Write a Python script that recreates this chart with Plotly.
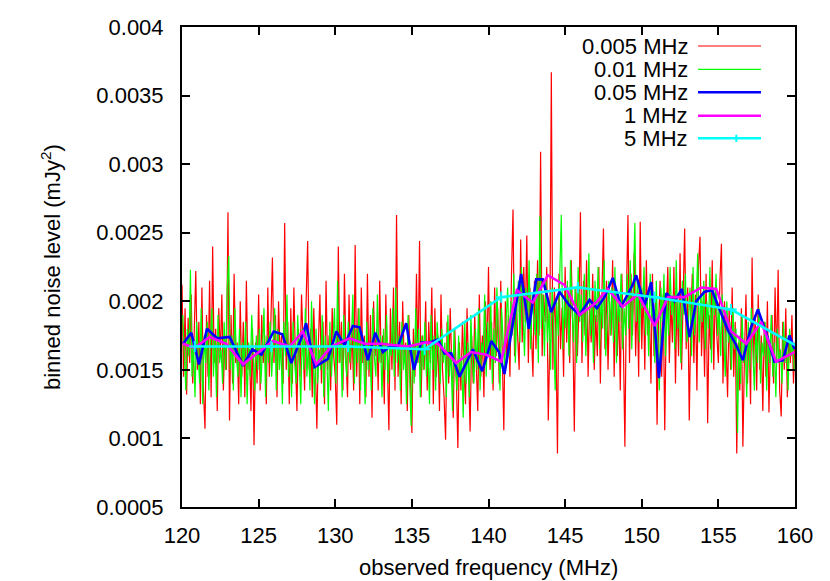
"""Binned noise level vs observed frequency, gnuplot-style."""

import plotly.graph_objects as go

FONT = "Liberation Sans, Arial, sans-serif"
SCALE = 1e-3  # values below are in units of 1e-3 mJy^2

# 0.005 MHz binning, channels from 120.0 MHz every 0.1 MHz
RED_START, RED_STEP = 120.0, 0.1
RED = [
    2.12, 1.45, 1.95, 1.32, 1.88, 1.55, 2.05, 1.40, 1.78, 2.22,
    1.50, 1.85, 1.25, 2.10, 1.35, 1.07, 1.90, 1.45, 2.15, 1.30,
    2.40, 1.55, 1.80, 1.20, 1.95, 1.60, 2.05, 1.35, 1.75, 1.50,
    2.65, 1.13, 1.90, 1.40, 2.20, 1.55, 1.70, 1.25, 2.00, 1.45,
    1.85, 1.30, 2.15, 1.50, 1.65, 1.20, 1.80, 0.95, 1.70, 1.40,
    2.05, 1.35, 1.90, 1.55, 1.75, 1.25, 2.10, 1.45, 1.85, 2.32,
    1.55, 1.90, 1.30, 2.00, 1.60, 1.75, 1.40, 2.57, 1.50, 1.85,
    1.25, 1.95, 1.40, 2.10, 1.60, 1.20, 1.80, 1.45, 2.05, 1.70,
    1.35, 2.00, 2.44, 1.50, 1.80, 1.30, 1.95, 1.55, 1.07, 1.70,
    2.05, 1.40, 1.85, 1.25, 2.15, 1.50, 1.75, 1.35, 1.95, 1.60,
    1.45, 1.10, 2.40, 1.55, 1.85, 1.35, 2.20, 1.60, 1.30, 2.05,
    1.50, 1.80, 1.35, 2.41, 1.45, 1.95, 1.25, 2.10, 1.55, 1.75,
    1.30, 2.20, 1.45, 1.90, 1.15, 2.00, 1.60, 1.80, 1.35, 2.15,
    1.55, 1.75, 1.25, 2.05, 1.40, 1.06, 1.95, 1.50, 2.10, 1.35,
    2.63, 1.45, 1.85, 1.25, 2.00, 1.55, 1.70, 1.20, 1.90, 1.40,
    1.04, 1.80, 1.45, 2.20, 1.55, 2.44, 1.30, 1.75, 1.50, 2.00,
    1.35, 1.85, 1.55, 2.10, 1.25, 1.95, 1.45, 1.75, 1.20, 2.05,
    1.50, 1.30, 0.99, 1.85, 1.40, 1.95, 1.55, 1.15, 1.80, 1.45,
    0.93, 1.70, 1.35, 1.85, 1.50, 1.25, 1.95, 1.40, 1.05, 1.75,
    1.40, 1.90, 1.55, 1.20, 2.05, 1.45, 1.75, 1.30, 2.00, 1.60,
    2.25, 1.50, 1.85, 1.35, 2.10, 1.60, 1.95, 1.40, 2.15, 1.70,
    1.06, 2.00, 1.55, 1.90, 1.45, 2.20, 2.67, 1.60, 2.05, 1.75,
    1.50, 2.45, 1.70, 2.25, 1.85, 2.48, 1.55, 2.10, 1.80, 1.45,
    2.15, 1.65, 2.30, 1.75, 3.09, 1.60, 2.05, 1.85, 2.25, 1.13,
    1.70, 3.67, 1.50, 2.10, 1.75, 0.89, 2.20, 1.65, 1.95, 1.45,
    2.25, 1.70, 2.05, 1.55, 2.30, 1.80, 1.05, 2.10, 1.60, 1.95,
    2.65, 1.55, 2.15, 1.75, 2.30, 1.45, 2.00, 1.70, 2.20, 1.50,
    1.90, 1.60, 2.25, 1.40, 2.05, 2.53, 1.65, 2.15, 1.50, 2.00,
    1.75, 2.30, 1.45, 2.10, 1.60, 1.95, 1.35, 2.20, 1.70, 0.94,
    2.05, 2.63, 1.55, 2.20, 1.75, 2.35, 1.60, 2.05, 1.45, 2.58,
    1.65, 2.10, 1.50, 2.30, 1.75, 1.95, 1.40, 2.20, 1.60, 2.00,
    1.10, 1.85, 2.15, 1.45, 2.05, 1.06, 1.90, 2.25, 1.55, 2.00,
    1.70, 2.25, 1.40, 2.05, 1.60, 2.35, 1.50, 1.95, 2.53, 1.65,
    2.10, 1.13, 1.85, 2.20, 1.55, 2.05, 1.35, 2.25, 2.47, 1.60,
    2.00, 1.45, 2.20, 1.11, 1.90, 1.65, 2.30, 1.50, 2.10, 1.75,
    1.55, 2.15, 2.42, 1.40, 2.00, 1.70, 1.30, 1.95, 1.50, 2.10,
    1.45, 1.85, 0.89, 1.70, 1.35, 1.95, 0.94, 1.60, 2.05, 1.40,
    1.80, 1.25, 2.32, 1.55, 1.90, 1.35, 2.05, 1.50, 1.75, 1.20,
    1.85, 1.45, 2.00, 1.19, 1.70, 1.90, 1.40, 2.10, 1.55, 2.23,
    1.35, 1.16, 1.85, 1.50, 1.95, 1.30, 1.75, 1.55, 1.90, 1.40,
    1.70,
]

# 0.01 MHz binning, channels from 120.05 MHz every 0.1 MHz
GREEN_START, GREEN_STEP = 120.05, 0.1
GREEN = [
    1.90, 1.55, 1.35, 1.80, 1.60, 2.23, 1.45, 1.70, 1.30, 1.85,
    1.60, 1.40, 1.95, 1.25, 1.75, 1.55, 1.85, 1.35, 1.70, 1.95,
    1.45, 1.75, 1.30, 1.90, 1.55, 1.65, 1.40, 1.85, 1.50, 2.10,
    2.33, 1.50, 1.75, 1.35, 1.95, 1.60, 1.45, 1.80, 1.30, 1.70,
    1.55, 1.85, 1.25, 1.70, 1.45, 1.90, 1.60, 1.35, 1.75, 1.50,
    1.80, 1.40, 1.65, 1.95, 1.30, 1.75, 1.55, 1.85, 1.45, 1.70,
    1.95, 1.35, 1.80, 1.50, 1.70, 1.25, 1.85, 1.60, 2.05, 1.45,
    1.70, 1.30, 1.85, 1.55, 1.40, 1.90, 1.60, 1.25, 1.80, 1.50,
    1.95, 1.45, 1.70, 1.35, 2.00, 1.55, 1.25, 1.80, 1.40, 1.65,
    1.50, 1.90, 1.30, 1.75, 1.60, 1.20, 1.85, 1.45, 1.70, 1.95,
    1.40, 2.15, 1.55, 1.75, 1.30, 1.90, 1.60, 1.45, 1.85, 1.55,
    1.70, 2.05, 1.40, 1.80, 1.55, 1.95, 1.35, 1.75, 1.60, 1.25,
    1.85, 1.50, 1.70, 1.35, 1.95, 1.60, 1.45, 2.05, 1.55, 1.75,
    1.30, 1.80, 1.50, 1.90, 1.40, 1.70, 1.60, 1.95, 1.45, 2.10,
    1.55, 1.75, 1.35, 1.85, 1.50, 1.65, 1.25, 1.90, 1.45, 1.09,
    1.70, 1.40, 1.95, 1.55, 1.80, 1.30, 1.75, 1.50, 1.85, 1.45,
    1.65, 1.25, 1.90, 1.50, 1.75, 1.35, 1.85, 1.60, 1.40, 1.80,
    1.55, 1.70, 1.30, 1.90, 1.45, 1.65, 1.20, 1.80, 1.50, 1.35,
    1.75, 1.45, 1.60, 1.15, 1.85, 1.40, 1.70, 1.30, 1.90, 1.55,
    1.40, 1.80, 1.50, 1.95, 1.35, 1.70, 1.60, 2.05, 1.45, 1.85,
    1.60, 2.00, 1.40, 1.80, 1.55, 2.10, 1.65, 1.35, 1.95, 1.75,
    1.50, 1.85, 2.10, 1.60, 2.00, 1.75, 2.20, 1.55, 1.95, 2.15,
    1.70, 2.25, 1.85, 1.60, 2.10, 1.80, 2.30, 1.65, 2.05, 1.90,
    1.75, 2.20, 1.55, 2.62, 1.80, 2.05, 1.60, 2.15, 1.70, 1.95,
    1.50, 2.10, 1.85, 1.35, 2.00, 1.75, 2.25, 2.63, 1.65, 2.00,
    1.80, 2.15, 1.60, 2.30, 1.95, 1.70, 2.10, 1.55, 2.25, 1.85,
    2.05, 1.70, 2.20, 1.60, 1.95, 2.35, 1.75, 2.00, 1.55, 2.15,
    1.85, 2.25, 1.65, 2.05, 1.80, 2.30, 1.60, 1.95, 2.15, 1.75,
    2.10, 1.70, 2.25, 1.55, 2.00, 1.85, 2.20, 1.65, 1.95, 1.75,
    2.20, 1.80, 2.30, 1.65, 2.05, 2.57, 1.85, 2.15, 1.70, 2.10,
    1.95, 2.25, 1.75, 2.05, 1.60, 2.20, 1.85, 2.00, 1.55, 2.15,
    1.70, 1.35, 2.10, 1.85, 2.20, 1.60, 2.00, 1.75, 2.25, 1.90,
    2.05, 1.65, 2.30, 1.80, 2.00, 1.55, 2.15, 1.90, 2.20, 1.70,
    1.85, 2.10, 1.60, 2.25, 1.75, 1.95, 2.35, 1.70, 2.05, 1.85,
    2.15, 1.65, 2.00, 1.80, 2.25, 1.55, 2.10, 1.90, 2.20, 1.75,
    1.95, 1.60, 2.05, 1.80, 1.45, 2.00, 1.70, 1.85, 1.50, 1.95,
    1.65, 1.80, 1.04, 1.75, 1.40, 1.90, 1.55, 1.70, 1.30, 1.85,
    1.50, 1.95, 1.65, 1.35, 1.80, 1.55, 1.95, 1.40, 1.70, 1.60,
    1.85, 1.35, 1.75, 1.55, 1.90, 1.45, 1.70, 1.30, 1.80, 1.55,
    1.65, 1.40, 1.85, 1.55, 1.75, 1.35, 1.80, 1.60, 1.70, 1.50,
]

# 0.05 MHz binning
BLUE_X = [
    120.07, 120.61, 121.11, 121.63, 122.29, 123.11, 123.98, 124.59, 125.18, 125.98,
    126.55, 127.13, 127.89, 128.10, 128.65, 129.52, 130.07, 130.61, 131.15, 131.59,
    132.13, 132.61, 133.11, 133.65, 134.09, 134.63, 135.13, 135.61, 136.15, 136.70,
    137.13, 137.57, 138.11, 138.98, 139.59, 140.18, 140.68, 141.04, 141.59, 142.13,
    142.63, 143.11, 143.54, 144.09, 144.63, 145.28, 145.94, 146.59, 147.07, 147.57,
    148.11, 148.65, 149.41, 149.64, 150.18, 150.62, 151.12, 151.60, 152.14, 152.62,
    153.12, 153.55, 154.10, 154.58, 155.08, 155.62, 156.12, 156.60, 157.10, 157.58,
    158.12, 158.66, 159.21, 159.64, 159.97,
]
BLUE = [
    1.69, 1.77, 1.54, 1.80, 1.73, 1.74, 1.53, 1.65, 1.61, 1.78,
    1.76, 1.55, 1.76, 1.84, 1.52, 1.58, 1.78, 1.68, 1.82, 1.81,
    1.57, 1.77, 1.63, 1.68, 1.67, 1.84, 1.50, 1.70, 1.70, 1.72,
    1.62, 1.62, 1.45, 1.65, 1.49, 1.71, 1.63, 1.47, 1.84, 2.20,
    1.80, 2.16, 2.16, 1.92, 2.07, 1.97, 1.90, 2.01, 1.95, 2.03,
    2.17, 1.96, 2.12, 2.19, 1.97, 2.14, 1.44, 2.06, 2.00, 2.09,
    1.74, 2.00, 2.07, 2.08, 1.94, 1.79, 1.69, 1.57, 1.80, 1.94,
    1.77, 1.56, 1.57, 1.75, 1.65,
]

# 1 MHz binning
MAGENTA_X = [
    120.07, 120.83, 121.81, 122.89, 123.98, 125.93, 127.02, 127.89, 128.76, 129.74,
    130.94, 131.92, 133.00, 134.74, 135.94, 136.70, 137.89, 138.87, 139.85, 140.83,
    141.85, 142.89, 143.87, 144.96, 145.94, 147.02, 147.78, 148.76, 149.75, 150.84,
    151.71, 152.79, 153.88, 154.86, 155.84, 156.82, 157.79, 158.77, 159.97,
]
MAGENTA = [
    1.69, 1.66, 1.74, 1.69, 1.54, 1.71, 1.67, 1.78, 1.54, 1.67,
    1.73, 1.69, 1.69, 1.67, 1.70, 1.69, 1.55, 1.63, 1.61, 1.56,
    2.08, 1.99, 2.19, 2.12, 1.90, 1.99, 2.09, 1.96, 2.05, 1.82,
    2.03, 2.03, 2.10, 2.09, 1.78, 1.69, 1.85, 1.56, 1.63,
]

# 5 MHz binning
CYAN_X = [120.83, 125.83, 130.83, 135.83, 140.83, 145.83, 150.83, 155.83, 160.83]
CYAN = [1.67, 1.67, 1.67, 1.65, 2.03, 2.10, 2.03, 1.94, 1.63]

LABELS = ["0.005 MHz", "0.01 MHz", "0.05 MHz", "1 MHz", "5 MHz"]
COLORS = ["#ff0000", "#00ff00", "#0000ff", "#ff00ff", "#00ffff"]
WIDTHS = [1.2, 1.2, 2.6, 2.6, 2.6]

X_TICKS = [120, 125, 130, 135, 140, 145, 150, 155, 160]
Y_TICKS = [0.0005, 0.001, 0.0015, 0.002, 0.0025, 0.003, 0.0035, 0.004]
Y_TEXT = ["0.0005", "0.001", "0.0015", "0.002", "0.0025", "0.003", "0.0035", "0.004"]

red_x = [RED_START + i * RED_STEP for i in range(len(RED))]
green_x = [GREEN_START + i * GREEN_STEP for i in range(len(GREEN))]

series = [
    (red_x, RED),
    (green_x, GREEN),
    (BLUE_X, BLUE),
    (MAGENTA_X, MAGENTA),
    (CYAN_X, CYAN),
]

text_font = {"family": FONT, "size": 22, "color": "black"}

fig = go.Figure()
for (xs, ys), name, color, width in zip(series, LABELS, COLORS, WIDTHS):
    is_cyan = name == "5 MHz"
    fig.add_trace(
        go.Scatter(
            x=xs,
            y=[v * SCALE for v in ys],
            mode="lines+markers" if is_cyan else "lines",
            name=name,
            line={"color": color, "width": width},
            marker={"symbol": "cross-thin", "size": 8, "line": {"color": color, "width": 2}} if is_cyan else None,
            showlegend=False,
        )
    )

# gnuplot-style key: right-aligned text, line sample to the right
row_y = [0.9604, 0.9119, 0.8640, 0.8152, 0.7681]
for name, color, width, y in zip(LABELS, COLORS, WIDTHS, row_y):
    fig.add_annotation(
        x=0.8287, y=y, xref="paper", yref="paper", text=name, showarrow=False,
        xanchor="right", yanchor="middle", font=text_font,
    )
    fig.add_shape(
        type="line", xref="paper", yref="paper", x0=0.8418, x1=0.9445, y0=y, y1=y,
        line={"color": color, "width": width},
    )
fig.add_shape(
    type="line", xref="paper", yref="paper", x0=0.9043, x1=0.9043,
    y0=row_y[-1] - 0.0075, y1=row_y[-1] + 0.0075, line={"color": COLORS[-1], "width": 2},
)

# axis titles placed like gnuplot's
fig.add_annotation(
    x=0.5, y=-0.125, xref="paper", yref="paper", text="observed frequency (MHz)",
    showarrow=False, xanchor="center", yanchor="middle", font=text_font,
)
fig.add_annotation(
    x=-0.2137, y=0.5, xref="paper", yref="paper", text="binned noise level (mJy<sup>2</sup>)",
    showarrow=False, xanchor="center", yanchor="middle", textangle=-90, font=text_font,
)

axis_common = dict(
    showline=True, linecolor="black", linewidth=2, mirror="ticks",
    ticks="inside", ticklen=8, tickwidth=1.5, tickcolor="black",
    showgrid=False, zeroline=False, automargin=False, tickfont=text_font,
)
fig.update_xaxes(range=[120, 160], tickvals=X_TICKS, ticklabelstandoff=8, **axis_common)
fig.update_yaxes(
    range=[0.0005, 0.004], tickvals=Y_TICKS, ticktext=Y_TEXT, ticklabelstandoff=12, **axis_common,
)
# the page body adds an 8 px margin, so the figure is 8 px smaller each way
fig.update_layout(
    width=822, height=573,
    margin={"l": 174, "r": 35, "t": 19, "b": 74},
    plot_bgcolor="white", paper_bgcolor="white",
    showlegend=False,
)

fig.write_html("out.html")
